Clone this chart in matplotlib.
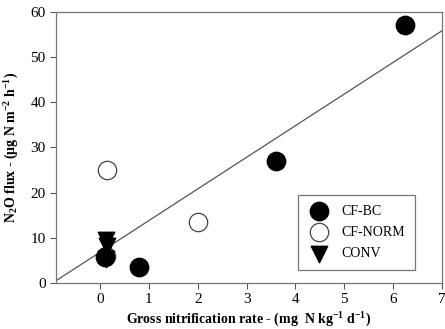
import matplotlib
matplotlib.use("Agg")
import matplotlib.pyplot as plt
import numpy as np

plt.rcParams['font.family'] = ['Liberation Serif', 'DejaVu Serif']
plt.rcParams['mathtext.fontset'] = 'custom'
plt.rcParams['mathtext.rm'] = 'Liberation Serif'
plt.rcParams['mathtext.it'] = 'Liberation Serif:italic'
plt.rcParams['mathtext.bf'] = 'Liberation Serif:bold'
plt.rcParams['mathtext.default'] = 'bf'

cfbc_x = [6.25, 3.6, 0.8, 0.1]
cfbc_y = [57.0, 27.0, 3.5, 5.8]
cfnorm_x = [0.15, 2.0, 0.12]
cfnorm_y = [25.0, 13.5, 6.0]
conv_x = [0.12, 0.14, 0.12]
conv_y = [9.6, 8.2, 5.2]
fit_slope = 7.0
fit_intercept = 6.8
xticks = [0, 1, 2, 3, 4, 5, 6, 7]
yticks = [0, 10, 20, 30, 40, 50, 60]

fig = plt.figure(figsize=(4.45, 3.29), dpi=100)
ax = fig.add_axes([0.126, 0.140, 0.867, 0.824])

xl = np.array([-0.9, 7.0])
ax.plot(xl, fit_slope * xl + fit_intercept, color='#555555', lw=0.9, zorder=1)

ax.scatter(cfbc_x, cfbc_y, s=175, marker='o', facecolor='black', edgecolor='black', zorder=3, label='CF-BC')
ax.scatter(cfnorm_x, cfnorm_y, s=175, marker='o', facecolor='white', edgecolor='#444444', linewidths=0.9, zorder=2, label='CF-NORM')
ax.scatter(conv_x, conv_y, s=140, marker='v', facecolor='black', edgecolor='black', zorder=4, label='CONV')

ax.set_xlim(-0.9, 7.0)
ax.set_ylim(0, 60)
ax.set_xticks(xticks)
ax.set_yticks(yticks)
ax.tick_params(axis='both', labelsize=11, direction='out', color='#555555', length=4, width=0.8)
for s in ax.spines.values():
    s.set_color('#777777')
    s.set_linewidth(0.9)

ax.set_xlabel(r'Gross nitrification rate - (mg  N kg$^{-1}$ d$^{-1}$)', fontsize=10, fontweight='bold', labelpad=3)
ax.set_ylabel(r'N$_{2}$O flux - ($\mu$g N m$^{-2}$ h$^{-1}$)', fontsize=10, fontweight='bold', labelpad=7)

leg = ax.legend(loc='lower right', bbox_to_anchor=(0.930, 0.048), borderaxespad=0, fontsize=10, frameon=True,
                fancybox=False, edgecolor='#555555', borderpad=0.7, labelspacing=0.6, handletextpad=0.8,
                handlelength=1.6, markerscale=1.0)
leg.get_frame().set_linewidth(0.9)

fig.savefig('out.png', dpi=100)
